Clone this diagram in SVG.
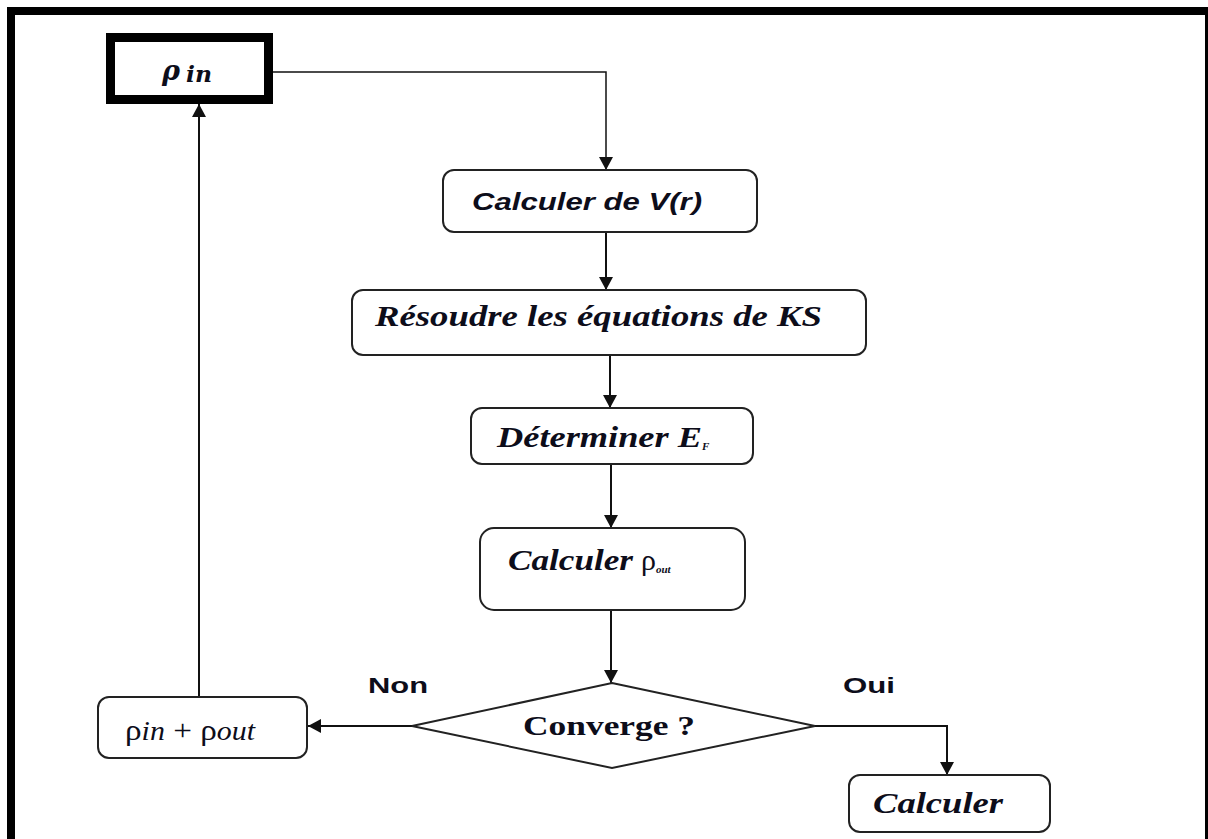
<svg xmlns="http://www.w3.org/2000/svg" width="1208" height="839" viewBox="0 0 1208 839">
<style>
.box{fill:#fff;stroke:#222;stroke-width:2}
.ln{fill:none;stroke:#111;stroke-width:2}
.serif{font-family:"Liberation Serif","Times New Roman",serif;font-weight:bold;font-style:italic;fill:#0d0d1a}
.sans{font-family:"Liberation Sans",Arial,sans-serif;font-weight:bold;fill:#0d0d1a}
</style>
<defs>
<marker id="arr" markerUnits="userSpaceOnUse" markerWidth="14" markerHeight="14" refX="13" refY="7" orient="auto">
<path d="M0,0 L13,7 L0,14 z" fill="#111"/>
</marker>
</defs>
<rect width="1208" height="839" fill="#fff"/>
<g id="frame">
<rect x="7" y="7" width="1201" height="8" fill="#000"/>
<rect x="7" y="7" width="8" height="832" fill="#000"/>
<rect x="1205" y="14" width="3" height="825" fill="#000"/>
</g>
<g id="connectors">
<path class="ln" style="stroke-width:1.5" d="M273,72 H606 V170" marker-end="url(#arr)"/>
<path class="ln" d="M606,232 V290" marker-end="url(#arr)"/>
<path class="ln" d="M610,356 V408" marker-end="url(#arr)"/>
<path class="ln" d="M611,464 V528" marker-end="url(#arr)"/>
<path class="ln" d="M611,610 V683" marker-end="url(#arr)"/>
<path class="ln" d="M412,726 H308" marker-end="url(#arr)"/>
<path class="ln" d="M199,697 V104" marker-end="url(#arr)"/>
<path class="ln" d="M815,726 H947 V775" marker-end="url(#arr)"/>
<text class="sans" x="368" y="693" font-size="22" textLength="60" lengthAdjust="spacingAndGlyphs">Non</text>
<text class="sans" x="843" y="693" font-size="22" textLength="52" lengthAdjust="spacingAndGlyphs">Oui</text>
</g>
<g id="rho_in">
<rect x="110.5" y="37.5" width="158" height="62" fill="#fff" stroke="#000" stroke-width="9"/>
<text x="162" y="80" font-family="'DejaVu Serif',serif" font-style="italic" font-weight="bold" font-size="27" fill="#0d0d1a">ρ<tspan x="186" font-size="22" dy="2" textLength="26" lengthAdjust="spacingAndGlyphs">in</tspan></text>
</g>
<g id="calc_v">
<rect class="box" x="443" y="170" width="314" height="62" rx="11"/>
<text class="sans" x="472" y="210" font-size="24" font-style="italic" textLength="230" lengthAdjust="spacingAndGlyphs">Calculer de V(r)</text>
</g>
<g id="resoudre">
<rect class="box" x="352" y="290" width="514" height="65" rx="11"/>
<text class="serif" x="375" y="326" font-size="30" textLength="447" lengthAdjust="spacingAndGlyphs">Résoudre les équations de KS</text>
</g>
<g id="determiner">
<rect class="box" x="471" y="408" width="282" height="56" rx="11"/>
<text class="serif" x="497" y="447" font-size="29"><tspan textLength="205" lengthAdjust="spacingAndGlyphs">Déterminer E</tspan><tspan font-size="11" dy="3">F</tspan></text>
</g>
<g id="calc_rho">
<rect class="box" x="480" y="528" width="265" height="82" rx="14"/>
<text class="serif" x="508" y="570" font-size="29"><tspan textLength="125" lengthAdjust="spacingAndGlyphs">Calculer</tspan><tspan x="641" font-style="normal" font-weight="normal" font-size="30">ρ</tspan><tspan font-size="11" dy="3">out</tspan></text>
</g>
<g id="converge">
<polygon points="612,683 815,726 612,768 412,726" fill="#fff" stroke="#222" stroke-width="2"/>
<text x="523" y="735" font-family="'Liberation Serif','Times New Roman',serif" font-weight="bold" font-size="28" fill="#0d0d1a" textLength="172" lengthAdjust="spacingAndGlyphs">Converge ?</text>
</g>
<g id="rho_sum">
<rect class="box" x="98" y="697" width="209" height="61" rx="11"/>
<text x="125" y="740" font-family="'Liberation Serif','Times New Roman',serif" font-size="30" fill="#0d0d1a" textLength="130" lengthAdjust="spacingAndGlyphs">ρ<tspan font-style="italic" font-size="27">in</tspan><tspan> + ρ</tspan><tspan font-style="italic" font-size="27">out</tspan></text>
</g>
<g id="calculer">
<rect class="box" x="849" y="775" width="201" height="57" rx="11"/>
<text class="serif" x="873" y="813" font-size="29" textLength="130" lengthAdjust="spacingAndGlyphs">Calculer</text>
</g>
</svg>
